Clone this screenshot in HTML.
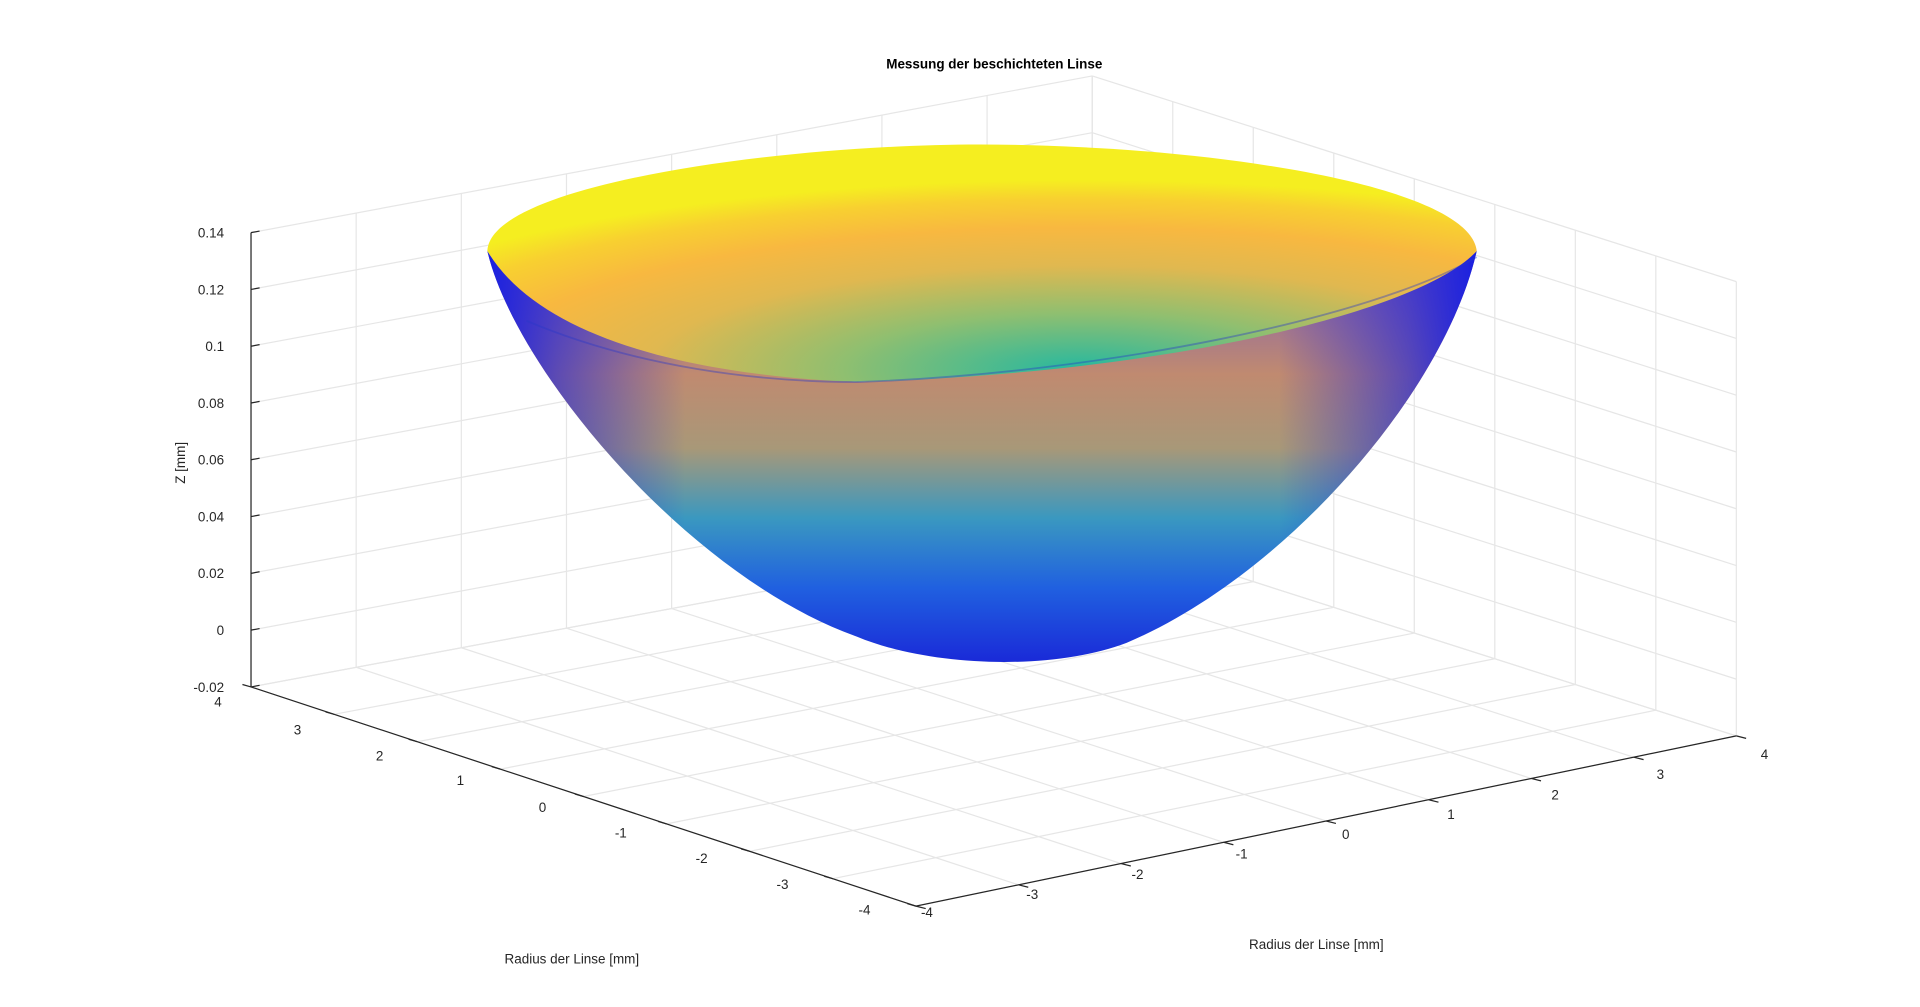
<!DOCTYPE html>
<html><head><meta charset="utf-8"><style>html,body{margin:0;padding:0;background:#fff;width:1920px;height:1007px;overflow:hidden}</style></head>
<body>
<svg width="1920" height="1007" viewBox="0 0 1568 822.4" preserveAspectRatio="none" xmlns="http://www.w3.org/2000/svg" font-family="Liberation Sans, Arial, sans-serif">
<defs>
<linearGradient id="outer" x1="0" y1="0" x2="0" y2="1" gradientUnits="objectBoundingBox">
<stop offset="0" stop-color="#7a5ab8"/>
<stop offset="0.3" stop-color="#c08a70"/>
<stop offset="0.48" stop-color="#a89878"/>
<stop offset="0.65" stop-color="#3a98c0"/>
<stop offset="0.82" stop-color="#2060e0"/>
<stop offset="1" stop-color="#1a2ad8"/>
</linearGradient>
<linearGradient id="edge" x1="0" y1="0" x2="1" y2="0">
<stop offset="0" stop-color="#1a20e0" stop-opacity="1"/>
<stop offset="0.07" stop-color="#1a20e0" stop-opacity="0.6"/>
<stop offset="0.2" stop-color="#1a20e0" stop-opacity="0"/>
<stop offset="0.8" stop-color="#1a20e0" stop-opacity="0"/>
<stop offset="0.93" stop-color="#1a20e0" stop-opacity="0.6"/>
<stop offset="1" stop-color="#1a20e0" stop-opacity="1"/>
</linearGradient>
<radialGradient id="inner" cx="0.6" cy="0.95" r="0.8">
<stop offset="0" stop-color="#25b8a0"/>
<stop offset="0.3" stop-color="#8fbf70"/>
<stop offset="0.55" stop-color="#e0b850"/>
<stop offset="0.75" stop-color="#f8b840"/>
<stop offset="0.9" stop-color="#f8d030"/>
<stop offset="1" stop-color="#f5ee20"/>
</radialGradient>
</defs>
<g stroke="#e6e6e6" stroke-width="1" fill="none" id="grid"></g>
<g stroke="#262626" stroke-width="1" fill="none">
<polyline points="205,190 205,561 748,740 1418,601"/>
</g>
<g id="ticks" font-size="11" fill="#262626"></g>
<path d="M398,205 C420,300 560,470 700,520 C760,545 860,548 920,525 C1050,470 1180,320 1206,205 C1150,250 950,300 700,312 C560,300 440,270 398,205 Z" fill="url(#outer)"/>
<path d="M398,205 C420,300 560,470 700,520 C760,545 860,548 920,525 C1050,470 1180,320 1206,205 C1150,250 950,300 700,312 C560,300 440,270 398,205 Z" fill="url(#edge)"/>
<path d="M398,205 C400,150 640,118 800,118 C980,118 1200,150 1206,205 C1160,255 950,305 700,312 C560,306 440,275 398,205 Z" fill="url(#inner)"/>
<path d="M430,262 C520,300 620,312 700,312 C900,305 1120,260 1206,210" stroke="#2838c8" stroke-width="1.5" fill="none" opacity="0.4"/>
<text x="812" y="56" font-size="11" font-weight="bold" text-anchor="middle" fill="#000">Messung der beschichteten Linse</text>
<text x="467" y="787" font-size="11" text-anchor="middle" fill="#262626">Radius der Linse [mm]</text>
<text x="1075" y="775" font-size="11" text-anchor="middle" fill="#262626">Radius der Linse [mm]</text>
<text transform="translate(151,378) rotate(-90)" font-size="11" text-anchor="middle" fill="#262626">Z [mm]</text>
<script>
(function(){
var ns="http://www.w3.org/2000/svg",g=document.getElementById('grid'),t=document.getElementById('ticks');
function L(x1,y1,x2,y2,p,s){var l=document.createElementNS(ns,'line');l.setAttribute('x1',x1);l.setAttribute('y1',y1);l.setAttribute('x2',x2);l.setAttribute('y2',y2);if(s)l.setAttribute('stroke',s);p.appendChild(l);}
function T(x,y,s,a){var e=document.createElementNS(ns,'text');e.setAttribute('x',x);e.setAttribute('y',y);e.setAttribute('text-anchor',a||'middle');e.textContent=s;t.appendChild(e);}
function lp(a,b,f){return[a[0]+(b[0]-a[0])*f,a[1]+(b[1]-a[1])*f];}
var FL=[205,561],FF=[748,740],FR=[1418,601],FB=[892,433],TL=[205,190],TB=[892,62],TR=[1418,230];
for(var i=0;i<=8;i++){var f=i/8;
var A=lp(FL,FF,f),B=lp(FB,FR,f);L(A[0],A[1],B[0],B[1],g);
var C=lp(FF,FR,f),D=lp(FL,FB,f);L(C[0],C[1],D[0],D[1],g);
var Dt=lp(TL,TB,f);L(D[0],D[1],Dt[0],Dt[1],g);
var Bt=lp(TB,TR,f);L(B[0],B[1],Bt[0],Bt[1],g);
L(A[0],A[1],A[0]-7,A[1]-2,t,'#262626');L(C[0],C[1],C[0]+8,C[1]+2,t,'#262626');}
var zl=['0.14','0.12','0.1','0.08','0.06','0.04','0.02','0','-0.02'];
for(var k=0;k<9;k++){var y=190+k*371/8;
L(205,y,892,y-128,g);L(892,y-128,1418,y+40,g);
L(205,y,212,y-1.3,t,'#262626');T(183,y+4,zl[k],'end');}
var ll=[[178,577,'4'],[243,600,'3'],[310,621,'2'],[376,641,'1'],[443,663,'0'],[507,684,'-1'],[573,705,'-2'],[639,726,'-3'],[706,747,'-4']];
ll.forEach(function(a){T(a[0],a[1],a[2]);});
var rl=[[757,749,'-4'],[843,734,'-3'],[929,718,'-2'],[1014,701,'-1'],[1099,685,'0'],[1185,669,'1'],[1270,653,'2'],[1356,636,'3'],[1441,620,'4']];
rl.forEach(function(a){T(a[0],a[1],a[2]);});
})();
</script>
</svg>
</body></html>
